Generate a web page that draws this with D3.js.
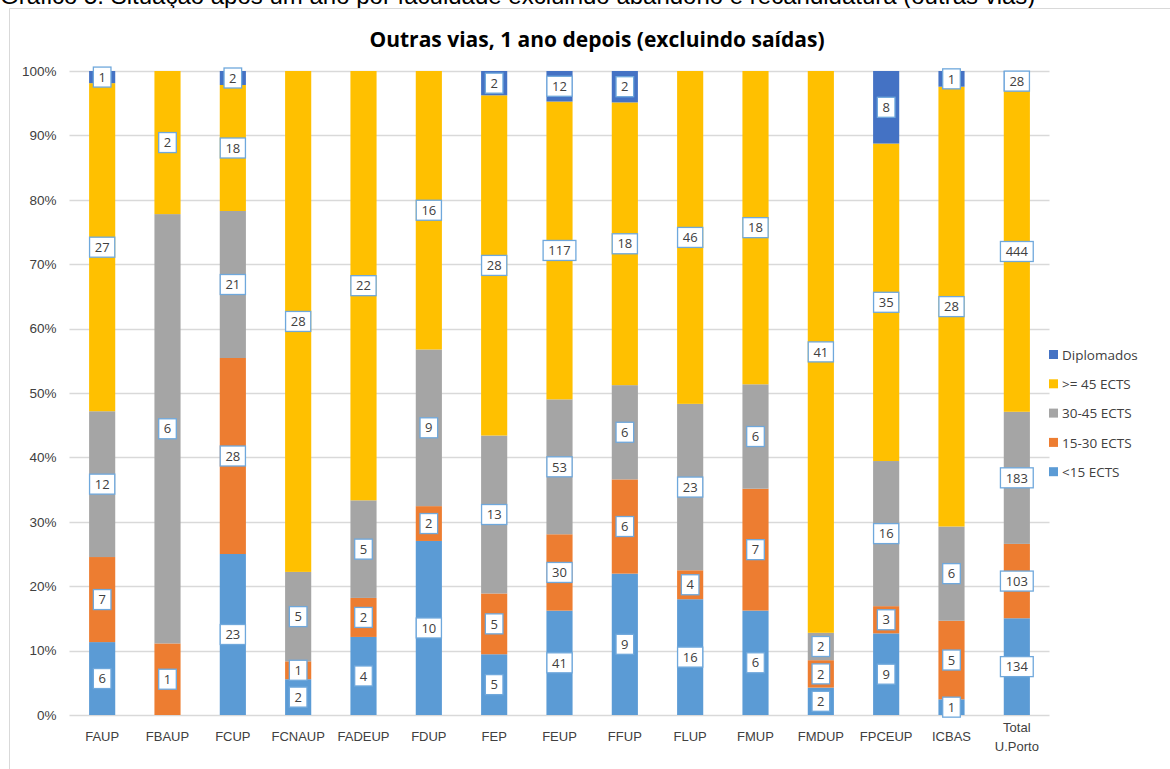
<!DOCTYPE html>
<html>
<head>
<meta charset="utf-8">
<script src="https://cdn.jsdelivr.net/npm/d3@7"></script>
<style>
  body { margin: 0; background: #fff; overflow: hidden; }
  svg { display: block; }
</style>
</head>
<body>
<svg id="chart" width="1170" height="769"></svg>
<script>
// categories and series values (counts per faculty)
const categories = ["FAUP", "FBAUP", "FCUP", "FCNAUP", "FADEUP", "FDUP", "FEP", "FEUP", "FFUP", "FLUP", "FMUP", "FMDUP", "FPCEUP", "ICBAS", "Total U.Porto"];
const menos15 = [6, 0, 23, 2, 4, 10, 5, 41, 9, 16, 6, 2, 9, 1, 134];
const de15a30 = [7, 1, 28, 1, 2, 2, 5, 30, 6, 4, 7, 2, 3, 5, 103];
const de30a45 = [12, 6, 21, 5, 5, 9, 13, 53, 6, 23, 6, 2, 16, 6, 183];
const mais45 = [27, 2, 18, 28, 22, 16, 28, 117, 18, 46, 18, 41, 35, 28, 444];
const diplomados = [1, 0, 2, 0, 0, 0, 2, 12, 2, 0, 0, 0, 8, 1, 28];
const yTicks = [0, 0.1, 0.2, 0.3, 0.4, 0.5, 0.6, 0.7, 0.8, 0.9, 1];

const seriesKeys = ["<15 ECTS", "15-30 ECTS", "30-45 ECTS", ">= 45 ECTS", "Diplomados"];
const seriesValues = [menos15, de15a30, de30a45, mais45, diplomados];
const colors = ["#5B9BD5", "#ED7D31", "#A5A5A5", "#FFC000", "#4472C4"];

const rows = categories.map((c, i) => {
  const r = { cat: c };
  seriesKeys.forEach((k, j) => r[k] = seriesValues[j][i]);
  return r;
});

const svg = d3.select("#chart");

// caption above the chart box (cut off at the top in the source)
svg.append("text")
  .attr("x", 0).attr("y", 4)
  .attr("font-family", "Liberation Sans, Arial, sans-serif")
  .attr("font-size", 24)
  .attr("fill", "#000")
  .text("Gráfico 5. Situação após um ano por faculdade excluindo abandono e recandidatura (outras vias)");

// chart frame
svg.append("path")
  .attr("d", "M9.5,769 V8.5 H1170")
  .attr("fill", "none")
  .attr("stroke", "#d9d9d9")
  .attr("stroke-width", 1);

// title
svg.append("text")
  .attr("x", 597).attr("y", 47)
  .attr("text-anchor", "middle")
  .attr("font-family", "Open Sans, sans-serif")
  .attr("font-weight", "bold")
  .attr("font-size", 21)
  .attr("fill", "#000")
  .text("Outras vias, 1 ano depois (excluindo saídas)");

const x = d3.scaleBand()
  .domain(categories)
  .range([69.5, 1049.5])
  .paddingInner(0.6)
  .paddingOuter(0.3);

const y = d3.scaleLinear().domain([0, 1]).range([715, 71]);

// gridlines
svg.append("g")
  .selectAll("line")
  .data(yTicks)
  .join("line")
  .attr("x1", 69.5).attr("x2", 1049.5)
  .attr("y1", d => Math.round(y(d)) + 0.5)
  .attr("y2", d => Math.round(y(d)) + 0.5)
  .attr("stroke", "#d9d9d9")
  .attr("stroke-width", 1.3);

// y axis labels
const yAxis = svg.append("g")
  .attr("transform", "translate(69.5,0)")
  .call(d3.axisLeft(y).tickValues(yTicks).tickFormat(d3.format(".0%")).tickSize(0).tickPadding(13));
yAxis.select(".domain").remove();
yAxis.selectAll("text")
  .attr("font-family", "Liberation Sans, Arial, sans-serif")
  .attr("font-size", 13.5)
  .attr("fill", "#404040");

// x axis labels
const xAxis = svg.append("g")
  .attr("transform", "translate(0,715)")
  .call(d3.axisBottom(x).tickSize(0).tickPadding(17));
xAxis.select(".domain").remove();
xAxis.selectAll("text")
  .attr("font-family", "Liberation Sans, Arial, sans-serif")
  .attr("font-size", 13)
  .attr("fill", "#404040")
  .each(function (d) {
    const parts = d.split(" ");
    if (parts.length > 1) {
      const t = d3.select(this).text(null);
      parts.forEach((p, i) => t.append("tspan").attr("x", 0).attr("dy", i === 0 ? 0 : "1.45em").text(p));
    }
  });

// stacked (100%) bars
const stacked = d3.stack().keys(seriesKeys).offset(d3.stackOffsetExpand)(rows);

const layers = svg.append("g")
  .selectAll("g")
  .data(stacked)
  .join("g")
  .attr("fill", (d, i) => colors[i]);

layers.selectAll("rect")
  .data(d => d)
  .join("rect")
  .attr("x", d => x(d.data.cat))
  .attr("width", x.bandwidth())
  .attr("y", d => y(d[1]))
  .attr("height", d => y(d[0]) - y(d[1]));

// data labels
const labelData = [];
stacked.forEach(layer => {
  layer.forEach(d => {
    const v = d.data[layer.key];
    if (v > 0) labelData.push({ cat: d.data.cat, v: v, mid: (d[0] + d[1]) / 2 });
  });
});

const labels = svg.append("g")
  .selectAll("g")
  .data(labelData)
  .join("g")
  .attr("transform", d => `translate(${x(d.cat) + x.bandwidth() / 2},${y(d.mid)})`);

labels.append("rect")
  .attr("x", d => -(String(d.v).length * 7.6 + 10) / 2)
  .attr("y", -10)
  .attr("width", d => String(d.v).length * 7.6 + 10)
  .attr("height", 20)
  .attr("fill", "#fff")
  .attr("stroke", "#6FA8DC")
  .attr("stroke-width", 1.3);

labels.append("text")
  .attr("text-anchor", "middle")
  .attr("dy", "0.36em")
  .attr("font-family", "Open Sans, sans-serif")
  .attr("font-size", 13)
  .attr("fill", "#404040")
  .text(d => d.v);

// legend (top to bottom: Diplomados first)
const legendOrder = seriesKeys.map((k, i) => ({ key: k, color: colors[i] })).reverse();
const legend = svg.append("g")
  .selectAll("g")
  .data(legendOrder)
  .join("g")
  .attr("transform", (d, i) => `translate(1049,${355 + i * 29.3})`);

legend.append("rect")
  .attr("x", 0).attr("y", -5)
  .attr("width", 9).attr("height", 9)
  .attr("fill", d => d.color);

legend.append("text")
  .attr("x", 13).attr("dy", "0.35em")
  .attr("font-family", "Open Sans, sans-serif")
  .attr("font-size", 13.5)
  .attr("fill", "#404040")
  .text(d => d.key);
</script>
</body>
</html>
